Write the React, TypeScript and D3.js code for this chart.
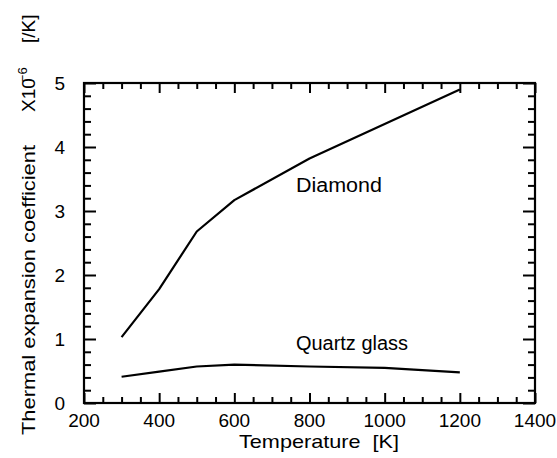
import React, { useEffect, useRef } from 'react';
import * as d3 from 'd3';

// Thermal expansion coefficient (x 1e-6 /K) vs temperature (K)
const diamondTemp = [300, 400, 500, 600, 800, 1000, 1200];
const diamondCoef = [1.03, 1.78, 2.68, 3.17, 3.82, 4.36, 4.9];

const quartzTemp = [300, 400, 500, 600, 800, 1000, 1200];
const quartzCoef = [0.41, 0.49, 0.57, 0.6, 0.57, 0.55, 0.48];

const xTicks = [200, 400, 600, 800, 1000, 1200, 1400];
const yTicks = [0, 1, 2, 3, 4, 5];

const FONT = '"Liberation Sans", Arial, Helvetica, sans-serif';

export default function App() {
  const svgRef = useRef<SVGSVGElement | null>(null);

  useEffect(() => {
    const width = 557;
    const height = 458;
    const margin = { top: 83, right: 22, bottom: 55, left: 84 };
    const svg = d3.select(svgRef.current);
    svg.selectAll('*').remove();
    svg.attr('width', width).attr('height', height);

    const innerW = width - margin.left - margin.right;
    const innerH = height - margin.top - margin.bottom;

    const x = d3.scaleLinear().domain([200, 1400]).range([0, innerW]);
    const y = d3.scaleLinear().domain([0, 5]).range([innerH, 0]);

    const g = svg.append('g').attr('transform', `translate(${margin.left},${margin.top})`);

    // frame
    g.append('rect')
      .attr('x', 0).attr('y', 0)
      .attr('width', innerW).attr('height', innerH)
      .attr('fill', 'none').attr('stroke', '#000').attr('stroke-width', 2.2);

    // inward ticks on all four sides, via d3 axes
    const xMinor = d3.range(200, 1401, 50).filter(v => v % 200 !== 0);
    const yMinor = d3.range(0, 25).map(i => i * 0.2).filter((_, i) => i % 5 !== 0);

    const styleTicks = (sel: any) => {
      sel.select('.domain').remove();
      sel.selectAll('.tick text').remove();
      sel.selectAll('.tick line').attr('stroke', '#000').attr('stroke-width', 2);
    };

    g.append('g').attr('transform', `translate(0,${innerH})`)
      .call(d3.axisBottom(x).tickValues(xTicks).tickSize(-10)).call(styleTicks);
    g.append('g').attr('transform', `translate(0,${innerH})`)
      .call(d3.axisBottom(x).tickValues(xMinor).tickSize(-6)).call(styleTicks);
    g.append('g')
      .call(d3.axisTop(x).tickValues(xTicks).tickSize(-10)).call(styleTicks);
    g.append('g')
      .call(d3.axisTop(x).tickValues(xMinor).tickSize(-6)).call(styleTicks);
    g.append('g')
      .call(d3.axisLeft(y).tickValues(yTicks).tickSize(-12)).call(styleTicks);
    g.append('g')
      .call(d3.axisLeft(y).tickValues(yMinor).tickSize(-7)).call(styleTicks);
    g.append('g').attr('transform', `translate(${innerW},0)`)
      .call(d3.axisRight(y).tickValues(yTicks).tickSize(-12)).call(styleTicks);
    g.append('g').attr('transform', `translate(${innerW},0)`)
      .call(d3.axisRight(y).tickValues(yMinor).tickSize(-7)).call(styleTicks);

    // tick labels
    g.append('g').selectAll('text')
      .data(xTicks)
      .join('text')
      .attr('x', d => x(d))
      .attr('y', innerH + 24)
      .attr('text-anchor', 'middle')
      .attr('font-family', FONT)
      .attr('font-size', 19)
      .text(d => d);

    g.append('g').selectAll('text')
      .data(yTicks)
      .join('text')
      .attr('x', -19)
      .attr('y', d => y(d))
      .attr('dy', '0.36em')
      .attr('text-anchor', 'end')
      .attr('font-family', FONT)
      .attr('font-size', 19)
      .text(d => d);

    // data lines
    const lineGen = d3.line<[number, number]>()
      .x(d => x(d[0]))
      .y(d => y(d[1]));

    const diamond = diamondTemp.map((t, i) => [t, diamondCoef[i]] as [number, number]);
    const quartz = quartzTemp.map((t, i) => [t, quartzCoef[i]] as [number, number]);

    g.append('path').datum(diamond)
      .attr('d', lineGen).attr('fill', 'none')
      .attr('stroke', '#000').attr('stroke-width', 2.2)
      .attr('stroke-linejoin', 'round');
    g.append('path').datum(quartz)
      .attr('d', lineGen).attr('fill', 'none')
      .attr('stroke', '#000').attr('stroke-width', 2.2)
      .attr('stroke-linejoin', 'round');

    // series labels
    g.append('text')
      .attr('x', x(764)).attr('y', y(3.3))
      .attr('font-family', FONT).attr('font-size', 19.5)
      .attr('textLength', 86).attr('lengthAdjust', 'spacingAndGlyphs')
      .text('Diamond');
    g.append('text')
      .attr('x', x(764)).attr('y', y(0.83))
      .attr('font-family', FONT).attr('font-size', 19.5)
      .attr('textLength', 112).attr('lengthAdjust', 'spacingAndGlyphs')
      .text('Quartz glass');

    // axis titles
    svg.append('text')
      .attr('x', 319).attr('y', 448)
      .attr('text-anchor', 'middle')
      .attr('font-family', FONT).attr('font-size', 19)
      .attr('textLength', 160).attr('lengthAdjust', 'spacingAndGlyphs')
      .attr('xml:space', 'preserve')
      .text('Temperature  [K]');

    svg.append('text')
      .attr('transform', 'translate(35,435) rotate(-90)')
      .attr('font-family', FONT).attr('font-size', 19)
      .attr('textLength', 290).attr('lengthAdjust', 'spacingAndGlyphs')
      .text('Thermal expansion coefficient');

    const unit = svg.append('text')
      .attr('transform', 'translate(35,112) rotate(-90)')
      .attr('font-family', FONT).attr('font-size', 19);
    unit.append('tspan').text('X10');
    unit.append('tspan')
      .attr('dx', -4).attr('dy', -8)
      .attr('font-size', 13)
      .text('−6');

    svg.append('text')
      .attr('transform', 'translate(35,43) rotate(-90)')
      .attr('font-family', FONT).attr('font-size', 19)
      .text('[/K]');
  }, []);

  return (
    <svg
      ref={svgRef}
      style={{ position: 'absolute', left: 0, top: 0, background: '#fff' }}
    />
  );
}
